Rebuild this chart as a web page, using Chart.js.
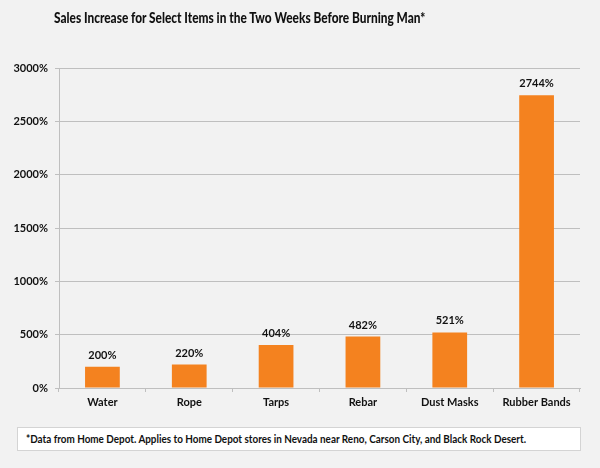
<!DOCTYPE html>
<html>
<head>
<meta charset="utf-8">
<script src="https://cdn.jsdelivr.net/npm/chart.js@4.4.0/dist/chart.umd.min.js"></script>
<style>
    html, body { margin: 0; padding: 0; background: #f2f2f2; }
    #wrap { position: relative; width: 600px; height: 468px; background: #f2f2f2; overflow: hidden; }
    #title {
        position: absolute; left: 54px; top: 8px;
        font-family: Lato, sans-serif; font-weight: 900; font-size: 15px;
        color: #111; white-space: nowrap;
        transform: scaleX(0.79); transform-origin: left top;
    }
    #note {
        position: absolute; left: 17px; top: 427px; width: 564px; height: 24px;
        background: #fff; border: 1px solid #d4d4d4; box-sizing: border-box;
    }
    #note span {
        position: absolute; left: 8px; top: 4px;
        font-family: Lato, sans-serif; font-weight: bold; font-size: 11px;
        color: #111; white-space: nowrap;
        transform: scaleX(0.9); transform-origin: left top;
    }
    canvas { position: absolute; left: 0; top: 0; }
</style>
</head>
<body>
<div id="wrap">
    <canvas id="salesChart" width="600" height="468"></canvas>
    <div id="title">Sales Increase for Select Items in the Two Weeks Before Burning Man*</div>
    <div id="note"><span>*Data from Home Depot. Applies to Home Depot stores in Nevada near Reno, Carson City, and Black Rock Desert.</span></div>
</div>
<script>
// Chart data
const items = ['Water', 'Rope', 'Tarps', 'Rebar', 'Dust Masks', 'Rubber Bands'];
const increase = [200, 220, 404, 482, 521, 2744]; // percent
const yTicks = [0, 500, 1000, 1500, 2000, 2500, 3000];

const gridGray = '#bfbfbf';

// Draw the value above each bar
const valueLabels = {
    id: 'valueLabels',
    afterDatasetsDraw(chart) {
        const ctx = chart.ctx;
        const meta = chart.getDatasetMeta(0);
        ctx.save();
        ctx.font = 'bold 11px Lato, sans-serif';
        ctx.fillStyle = '#111';
        ctx.textAlign = 'center';
        ctx.textBaseline = 'bottom';
        meta.data.forEach((bar, i) => {
            ctx.fillText(increase[i] + '%', bar.x, bar.y - 6);
        });
        ctx.restore();
    }
};

new Chart(document.getElementById('salesChart'), {
    type: 'bar',
    data: {
        labels: items,
        datasets: [{
            data: increase,
            backgroundColor: '#f4821f',
            borderWidth: 0,
            barPercentage: 0.4,
            categoryPercentage: 1.0
        }]
    },
    options: {
        responsive: false,
        animation: false,
        events: [],
        layout: { padding: { top: 68, right: 20, left: 0, bottom: 0 } },
        plugins: {
            legend: { display: false },
            tooltip: { enabled: false }
        },
        scales: {
            x: {
                offset: true,
                grid: {
                    display: true,
                    offset: true,
                    drawOnChartArea: false,
                    color: gridGray,
                    tickLength: 4
                },
                border: { color: gridGray },
                ticks: {
                    color: '#111',
                    padding: 4,
                    font: { family: 'Lato, sans-serif', size: 11, weight: 'bold' }
                },
                afterFit(scale) { scale.height = 80; }
            },
            y: {
                min: 0,
                max: 3000,
                afterBuildTicks(scale) {
                    scale.ticks = yTicks.map(v => ({ value: v }));
                },
                grid: { color: gridGray, tickLength: 4 },
                border: { color: gridGray },
                ticks: {
                    color: '#111',
                    padding: 7,
                    font: { family: 'Lato, sans-serif', size: 11, weight: 'bold' },
                    callback: v => v + '%'
                },
                afterFit(scale) { scale.width = 59; }
            }
        }
    },
    plugins: [valueLabels]
});
</script>
</body>
</html>
